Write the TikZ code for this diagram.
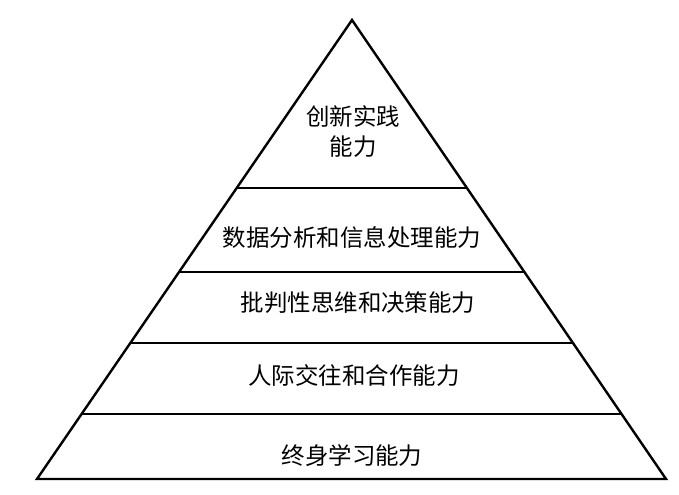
\documentclass[tikz,border=0pt]{standalone}
\usepackage{fontspec}
\setmainfont{Noto Sans CJK SC}
\usetikzlibrary{calc}
\begin{document}
\begin{tikzpicture}[x=0.75pt, y=-0.75pt, line width=1.8pt, line join=miter,
    label/.style = {font=\fontsize{17.6pt}{22.5pt}\selectfont, align=center, inner sep=0pt}]
    \useasboundingbox (0,0) rectangle (679,495);
    \coordinate (top) at (352,20);
    \coordinate (bl) at (37,479);
    \coordinate (br) at (666,479);
    \draw (top) -- (bl) -- (br) -- cycle;
    \coordinate (l1) at ($(top)!0.366!(bl)$);
    \coordinate (r1) at ($(top)!0.366!(br)$);
    \coordinate (l2) at ($(top)!0.549!(bl)$);
    \coordinate (r2) at ($(top)!0.549!(br)$);
    \coordinate (l3) at ($(top)!0.704!(bl)$);
    \coordinate (r3) at ($(top)!0.704!(br)$);
    \coordinate (l4) at ($(top)!0.858!(bl)$);
    \coordinate (r4) at ($(top)!0.858!(br)$);
    \draw (l1) -- (r1);
    \draw (l2) -- (r2);
    \draw (l3) -- (r3);
    \draw (l4) -- (r4);
    \node[label] (innov) at (353,132) {创新实践\\能力};
    \node[label] (data) at (352,238) {数据分析和信息处理能力};
    \node[label] (crit) at (358,303) {批判性思维和决策能力};
    \node[label] (social) at (354,376) {人际交往和合作能力};
    \node[label] (life) at (352,456) {终身学习能力};
\end{tikzpicture}
\end{document}
